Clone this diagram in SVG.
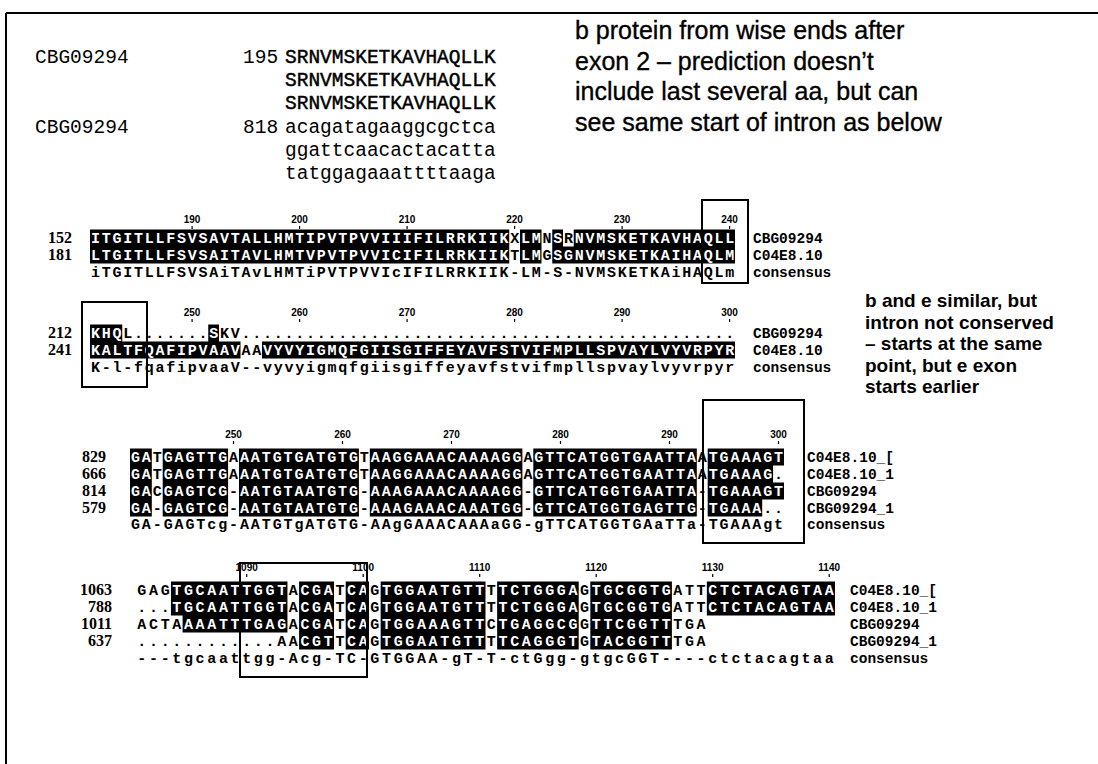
<svg xmlns="http://www.w3.org/2000/svg" xmlns:xlink="http://www.w3.org/1999/xlink" width="1098" height="764" viewBox="0 0 1098 764">
<style>
.top{font-family:"Liberation Mono","Courier New",monospace;font-size:19.5px;fill:#000}
.prot{stroke:#000;stroke-width:0.45}
.note1{font-family:"Liberation Sans",Arial,sans-serif;font-size:25px;fill:#000;stroke:#000;stroke-width:0.35}
.note2{font-family:"Liberation Sans",Arial,sans-serif;font-size:19px;font-weight:bold;fill:#000}
.seq{font-family:"Liberation Mono","Courier New",monospace;font-size:15px;font-weight:bold}
.b12{letter-spacing:1.75px}
.b3{letter-spacing:1.9px}
.b4{letter-spacing:2.65px}
.lab{font-family:"Liberation Mono","Courier New",monospace;font-size:14.5px;font-weight:bold;fill:#000}
.num{font-family:"Liberation Serif","Times New Roman",serif;font-size:16px;font-weight:bold;fill:#000;text-anchor:end}
.rul{font-family:"Liberation Sans",Arial,sans-serif;font-size:10px;font-weight:bold;fill:#000;text-anchor:middle}
.tick{stroke:#000;stroke-width:1.2}
.frame{fill:none;stroke:#000;stroke-width:2}
</style>
<defs>
<clipPath id="sh1">
<rect x="90" y="229.5" width="419.25" height="17"/>
<rect x="520" y="229.5" width="21.5" height="17"/>
<rect x="552.25" y="229.5" width="10.75" height="17"/>
<rect x="573.75" y="229.5" width="161.25" height="17"/>
<rect x="90" y="246.5" width="419.25" height="17"/>
<rect x="520" y="246.5" width="21.5" height="17"/>
<rect x="552.25" y="246.5" width="182.75" height="17"/>
</clipPath>
<clipPath id="sh2">
<rect x="90" y="324.5" width="32.25" height="17"/>
<rect x="208.25" y="324.5" width="10.75" height="17"/>
<rect x="90" y="341.5" width="150.5" height="17"/>
<rect x="262" y="341.5" width="473" height="17"/>
</clipPath>
<clipPath id="sh3">
<rect x="130" y="448.5" width="21.8" height="17"/><rect x="162.7" y="448.5" width="65.4" height="17"/><rect x="239" y="448.5" width="119.9" height="17"/><rect x="369.8" y="448.5" width="152.6" height="17"/><rect x="533.3" y="448.5" width="163.5" height="17"/><rect x="707.7" y="448.5" width="76.3" height="17"/>
<rect x="130" y="465.5" width="21.8" height="17"/><rect x="162.7" y="465.5" width="65.4" height="17"/><rect x="239" y="465.5" width="119.9" height="17"/><rect x="369.8" y="465.5" width="152.6" height="17"/><rect x="533.3" y="465.5" width="163.5" height="17"/><rect x="707.7" y="465.5" width="65.4" height="17"/>
<rect x="130" y="482.5" width="21.8" height="17"/><rect x="162.7" y="482.5" width="65.4" height="17"/><rect x="239" y="482.5" width="119.9" height="17"/><rect x="369.8" y="482.5" width="152.6" height="17"/><rect x="533.3" y="482.5" width="163.5" height="17"/><rect x="707.7" y="482.5" width="76.3" height="17"/>
<rect x="130" y="499.5" width="21.8" height="17"/><rect x="162.7" y="499.5" width="65.4" height="17"/><rect x="239" y="499.5" width="119.9" height="17"/><rect x="369.8" y="499.5" width="152.6" height="17"/><rect x="533.3" y="499.5" width="163.5" height="17"/><rect x="707.7" y="499.5" width="54.5" height="17"/>
</clipPath>
<clipPath id="sh4">
<rect x="170.95" y="581.5" width="116.5" height="17"/><rect x="299.1" y="581.5" width="34.95" height="17"/><rect x="345.7" y="581.5" width="23.3" height="17"/><rect x="380.65" y="581.5" width="104.85" height="17"/><rect x="497.15" y="581.5" width="81.55" height="17"/><rect x="590.35" y="581.5" width="81.55" height="17"/><rect x="706.85" y="581.5" width="128.15" height="17"/>
<rect x="170.95" y="598.5" width="116.5" height="17"/><rect x="299.1" y="598.5" width="34.95" height="17"/><rect x="345.7" y="598.5" width="23.3" height="17"/><rect x="380.65" y="598.5" width="104.85" height="17"/><rect x="497.15" y="598.5" width="81.55" height="17"/><rect x="590.35" y="598.5" width="81.55" height="17"/><rect x="706.85" y="598.5" width="128.15" height="17"/>
<rect x="182.6" y="615.5" width="104.85" height="17"/><rect x="299.1" y="615.5" width="34.95" height="17"/><rect x="345.7" y="615.5" width="23.3" height="17"/><rect x="380.65" y="615.5" width="104.85" height="17"/><rect x="497.15" y="615.5" width="81.55" height="17"/><rect x="590.35" y="615.5" width="81.55" height="17"/>
<rect x="299.1" y="632.5" width="34.95" height="17"/><rect x="345.7" y="632.5" width="23.3" height="17"/><rect x="380.65" y="632.5" width="104.85" height="17"/><rect x="497.15" y="632.5" width="81.55" height="17"/><rect x="590.35" y="632.5" width="81.55" height="17"/>
</clipPath>
<text id="t1a" class="seq b12" x="90.88" y="243">ITGITLLFSVSAVTALLHMTIPVTPVVIIIFILRRKIIKXLMNSRNVMSKETKAVHAQLL</text>
<text id="t1b" class="seq b12" x="90.88" y="260">LTGITLLFSVSAITAVLHMTVPVTPVVICIFILRRKIIKTLMGSGNVMSKETKAIHAQLM</text>
<text id="t2a" class="seq b12" x="90.88" y="338">KHQL.......SKV..............................................</text>
<text id="t2b" class="seq b12" x="90.88" y="355">KALTFQAFIPVAAVAAVYVYIGMQFGIISGIFFEYAVFSTVIFMPLLSPVAYLVYVRPYR</text>
<text id="t3a" class="seq b3" x="130.95" y="462">GATGAGTTGAAATGTGATGTGTAAGGAAACAAAAGGAGTTCATGGTGAATTAATGAAAGT</text>
<text id="t3b" class="seq b3" x="130.95" y="479">GATGAGTTGAAATGTGATGTGTAAGGAAACAAAAGGAGTTCATGGTGAATTAATGAAAG.</text>
<text id="t3c" class="seq b3" x="130.95" y="496">GACGAGTCG-AATGTAATGTG-AAAGAAACAAAAGG-GTTCATGGTGAATTA-TGAAAGT</text>
<text id="t3d" class="seq b3" x="130.95" y="513">GA-GAGTCG-AATGTAATGTG-AAAGAAACAAATGG-GTTCATGGTGAGTTG-TGAAA..</text>
<text id="t4a" class="seq b4" x="137.33" y="595">GAGTGCAATTGGTACGATCAGTGGAATGTTTTCTGGGAGTGCGGTGATTCTCTACAGTAA</text>
<text id="t4b" class="seq b4" x="137.33" y="612">...TGCAATTGGTACGATCAGTGGAATGTTTTCTGGGAGTGCGGTGATTCTCTACAGTAA</text>
<text id="t4c" class="seq b4" x="137.33" y="629">ACTAAAATTTGAGACGATCAGTGGAAAGTTCTGAGGCGGTTCGGTTTGA</text>
<text id="t4d" class="seq b4" x="137.33" y="646">............AACGTTCAGTGGAATGTTTTCAGGGTGTACGGTTTGA</text>
</defs>

<rect x="0" y="0" width="1098" height="764" fill="#fff"/>
<g id="frame">
<path d="M6 13 H1098 M6 13 V764" class="frame"/>
</g>

<g id="top-sequences" class="top">
<text x="35" y="63">CBG09294</text>
<text x="243" y="63">195</text>
<text class="prot" x="285" y="63">SRNVMSKETKAVHAQLLK</text>
<text class="prot" x="285" y="86">SRNVMSKETKAVHAQLLK</text>
<text class="prot" x="285" y="109">SRNVMSKETKAVHAQLLK</text>
<text x="35" y="133">CBG09294</text>
<text x="243" y="133">818</text>
<text x="285" y="133">acagatagaaggcgctca</text>
<text x="285" y="156">ggattcaacactacatta</text>
<text x="285" y="179">tatggagaaattttaaga</text>
</g>

<g id="note-top" class="note1">
<text x="575" y="39">b protein from wise ends after</text>
<text x="575" y="70">exon 2 – prediction doesn’t</text>
<text x="575" y="100">include last several aa, but can</text>
<text x="575" y="131">see same start of intron as below</text>
</g>

<g id="note-right" class="note2">
<text x="865" y="307">b and e similar, but</text>
<text x="865" y="328.5">intron not conserved</text>
<text x="865" y="350">– starts at the same</text>
<text x="865" y="371.5">point, but e exon</text>
<text x="865" y="393">starts earlier</text>
</g>

<g id="block1">
<g class="rul"><text x="192.1" y="223">190</text><text x="299.6" y="223">200</text><text x="407.1" y="223">210</text><text x="514.6" y="223">220</text><text x="622.1" y="223">230</text><text x="729.6" y="223">240</text></g>
<path class="tick" d="M192.1 226v3M299.6 226v3M407.1 226v3M514.6 226v3M622.1 226v3M729.6 226v3"/>
<text class="num" x="72" y="243">152</text>
<text class="num" x="72" y="260">181</text>
<rect x="0" y="0" width="1098" height="764" clip-path="url(#sh1)"/>
<use xlink:href="#t1a" fill="#000"/><use xlink:href="#t1a" fill="#fff" clip-path="url(#sh1)"/>
<use xlink:href="#t1b" fill="#000"/><use xlink:href="#t1b" fill="#fff" clip-path="url(#sh1)"/>
<text class="seq b12" x="90.88" y="277" fill="#000">iTGITLLFSVSAiTAvLHMTiPVTPVVIcIFILRRKIIK-LM-S-NVMSKETKAiHAQLm</text>
<g class="lab"><text x="753" y="243">CBG09294</text><text x="753" y="260">C04E8.10</text><text x="753" y="277">consensus</text></g>
<rect class="frame" x="702" y="200" width="46" height="83"/>
</g>

<g id="block2">
<g class="rul"><text x="192.1" y="316">250</text><text x="299.6" y="316">260</text><text x="407.1" y="316">270</text><text x="514.6" y="316">280</text><text x="622.1" y="316">290</text><text x="729.6" y="316">300</text></g>
<path class="tick" d="M192.1 319v3M299.6 319v3M407.1 319v3M514.6 319v3M622.1 319v3M729.6 319v3"/>
<text class="num" x="72" y="338">212</text>
<text class="num" x="72" y="355">241</text>
<rect x="0" y="0" width="1098" height="764" clip-path="url(#sh2)"/>
<use xlink:href="#t2a" fill="#000"/><use xlink:href="#t2a" fill="#fff" clip-path="url(#sh2)"/>
<use xlink:href="#t2b" fill="#000"/><use xlink:href="#t2b" fill="#fff" clip-path="url(#sh2)"/>
<text class="seq b12" x="90.88" y="372" fill="#000">K-l-fqafipvaaV--vyvyigmqfgiisgiffeyavfstvifmpllspvaylvyvrpyr</text>
<g class="lab"><text x="753" y="338">CBG09294</text><text x="753" y="355">C04E8.10</text><text x="753" y="372">consensus</text></g>
<rect class="frame" x="82" y="302" width="65" height="85"/>
</g>

<g id="block3">
<g class="rul"><text x="233.5" y="438">250</text><text x="342.5" y="438">260</text><text x="451.5" y="438">270</text><text x="560.5" y="438">280</text><text x="669.5" y="438">290</text><text x="778.5" y="438">300</text></g>
<path class="tick" d="M233.5 441v3M342.5 441v3M451.5 441v3M560.5 441v3M669.5 441v3M778.5 441v3"/>
<text class="num" x="106" y="462">829</text>
<text class="num" x="106" y="479">666</text>
<text class="num" x="106" y="496">814</text>
<text class="num" x="106" y="513">579</text>
<rect x="0" y="0" width="1098" height="764" clip-path="url(#sh3)"/>
<use xlink:href="#t3a" fill="#000"/><use xlink:href="#t3a" fill="#fff" clip-path="url(#sh3)"/>
<use xlink:href="#t3b" fill="#000"/><use xlink:href="#t3b" fill="#fff" clip-path="url(#sh3)"/>
<use xlink:href="#t3c" fill="#000"/><use xlink:href="#t3c" fill="#fff" clip-path="url(#sh3)"/>
<use xlink:href="#t3d" fill="#000"/><use xlink:href="#t3d" fill="#fff" clip-path="url(#sh3)"/>
<text class="seq b3" x="130.95" y="529" fill="#000">GA-GAGTcg-AATGTgATGTG-AAgGAAACAAAaGG-gTTCATGGTGAaTTa-TGAAAgt</text>
<g class="lab"><text x="807" y="462">C04E8.10_[</text><text x="807" y="479">C04E8.10_1</text><text x="807" y="496">CBG09294</text><text x="807" y="513">CBG09294_1</text><text x="807" y="529">consensus</text></g>
<rect class="frame" x="703" y="400" width="101" height="143"/>
</g>

<g id="block4">
<g class="rul"><text x="246.7" y="571">1090</text><text x="363.2" y="571">1100</text><text x="479.7" y="571">1110</text><text x="596.2" y="571">1120</text><text x="712.7" y="571">1130</text><text x="829.2" y="571">1140</text></g>
<path class="tick" d="M246.7 574v3M363.2 574v3M479.7 574v3M596.2 574v3M712.7 574v3M829.2 574v3"/>
<text class="num" x="112" y="595">1063</text>
<text class="num" x="112" y="612">788</text>
<text class="num" x="112" y="629">1011</text>
<text class="num" x="112" y="646">637</text>
<rect x="0" y="0" width="1098" height="764" clip-path="url(#sh4)"/>
<use xlink:href="#t4a" fill="#000"/><use xlink:href="#t4a" fill="#fff" clip-path="url(#sh4)"/>
<use xlink:href="#t4b" fill="#000"/><use xlink:href="#t4b" fill="#fff" clip-path="url(#sh4)"/>
<use xlink:href="#t4c" fill="#000"/><use xlink:href="#t4c" fill="#fff" clip-path="url(#sh4)"/>
<use xlink:href="#t4d" fill="#000"/><use xlink:href="#t4d" fill="#fff" clip-path="url(#sh4)"/>
<text class="seq b4" x="137.33" y="663" fill="#000">---tgcaattgg-Acg-TC-GTGGAA-gT-T-ctGgg-gtgcGGT----ctctacagtaa</text>
<g class="lab"><text x="850" y="595">C04E8.10_[</text><text x="850" y="612">C04E8.10_1</text><text x="850" y="629">CBG09294</text><text x="850" y="646">CBG09294_1</text><text x="850" y="663">consensus</text></g>
<rect class="frame" x="240" y="563" width="127" height="114"/>
</g>
</svg>
